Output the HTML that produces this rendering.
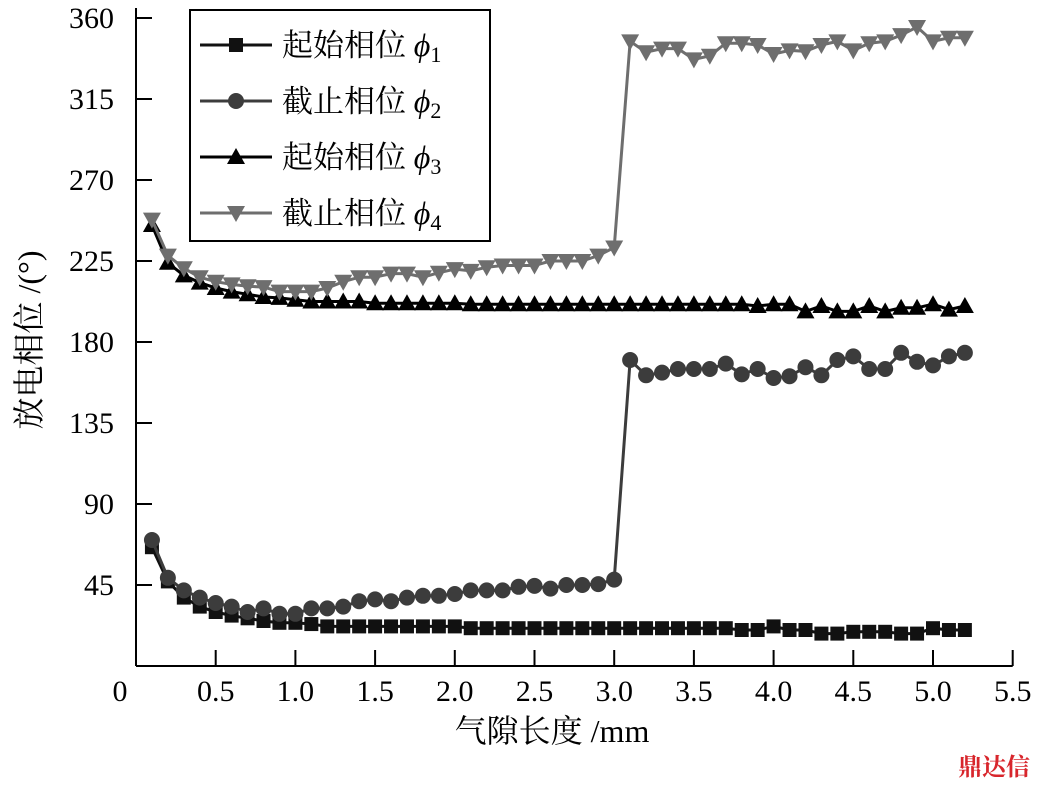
<!DOCTYPE html>
<html><head><meta charset="utf-8"><style>
html,body{margin:0;padding:0;background:#fff;}
svg text{font-family:"Liberation Serif","Noto Serif CJK SC","Noto Sans CJK SC",serif;}
</style></head><body>
<svg id="chart" width="1039" height="784" viewBox="0 0 1039 784" xmlns="http://www.w3.org/2000/svg">
<g id="axes"></g>
<g id="series"></g>
<g id="legend"></g>
<text transform="translate(40,340) rotate(-90)" text-anchor="middle" font-size="32">放电相位 /(°)</text>
<text x="552" y="742" text-anchor="middle" font-size="32">气隙长度 /mm</text>
<text x="1030" y="775" text-anchor="end" font-size="24" fill="#d8262c" font-weight="bold">鼎达信</text>
</svg>
<script>
const xTicks = [0,0.5,1.0,1.5,2.0,2.5,3.0,3.5,4.0,4.5,5.0,5.5];
const xTickLabels = ["0","0.5","1.0","1.5","2.0","2.5","3.0","3.5","4.0","4.5","5.0","5.5"];
const yTicks = [45,90,135,180,225,270,315,360];
const gapX = [0.1,0.2,0.3,0.4,0.5,0.6,0.7,0.8,0.9,1.0,1.1,1.2,1.3,1.4,1.5,1.6,1.7,1.8,1.9,2.0,2.1,2.2,2.3,2.4,2.5,2.6,2.7,2.8,2.9,3.0,3.1,3.2,3.3,3.4,3.5,3.6,3.7,3.8,3.9,4.0,4.1,4.2,4.3,4.4,4.5,4.6,4.7,4.8,4.9,5.0,5.1,5.2];
const phi1 = [66,47,38,33,30,28,26.5,25,24,24,23.3,22,22,22,22,22,22,22,22,22,21,21,21,21,21,21,21,21,21,21,21,21,21,21,21,21,21,20,20,22,20,20,18,18,19,19,19,18,18,21,20,20];
const phi2 = [70,49,42,38,35,33,30,32,29,29,32,32,33,36,37,36,38,39,39,40,42,42,42,44,44.5,43,45,45,45.5,48,170,161.5,163,165,165,165,168,162,165,160,161,166,161.5,170,172,165,165,174,169,167,172,174];
const phi3 = [245,224,217,213,210,208,206.5,205,204.5,203.5,202.5,202.5,202.5,202.5,201.5,201.5,201.5,201.5,201.5,201.5,201,201,201,201,201,201,201,201,201,201,201,201,201,201,201,201,201,201,200,201,201,197,200,197,197,200,197,199,199,201,198,200];
const phi4 = [248,228,221,216,213.5,212,211,210.5,208,208,208,210,213.5,216,216,218,218,216,218.5,220.5,219.5,221.5,222.5,222.5,222.5,225,225,225,228,232.5,347,341,343,343,337,339,346,346,345,340,342,341.5,345,347,342,346,347,350.5,355,347,349,349];
const seriesNames = ["起始相位 ","截止相位 ","起始相位 ","截止相位 "];

const X0=136, XS=159.4, Y0=666, YS=1.8;
const sx=v=>X0+v*XS, sy=v=>Y0-v*YS;
const NS="http://www.w3.org/2000/svg";
function mk(tag,attrs,parent){const e=document.createElementNS(NS,tag);for(const k in attrs)e.setAttribute(k,attrs[k]);parent.appendChild(e);return e;}
const axes=document.getElementById('axes');
let l=mk('line',{x1:X0,y1:8,x2:X0,y2:Y0,stroke:'#000','stroke-width':2},axes);


l=mk('line',{x1:X0,y1:Y0,x2:sx(5.5),y2:Y0,stroke:'#000','stroke-width':2},axes);


xTicks.forEach((t,i)=>{
  if(t>0){const tk=mk('line',{x1:sx(t),y1:Y0,x2:sx(t),y2:Y0-16,stroke:'#000','stroke-width':2},axes);
  
  }
  const tx=mk('text',{x:t===0?120:sx(t),y:701,'text-anchor':'middle','font-size':30},axes);
  
  
  tx.textContent=xTickLabels[i];
});
yTicks.forEach(t=>{
  const tk=mk('line',{x1:X0,y1:sy(t),x2:X0+16,y2:sy(t),stroke:'#000','stroke-width':2},axes);
  
  
  const tx=mk('text',{x:114,y:sy(t)+10,'text-anchor':'end','font-size':30},axes);
  
  
  tx.textContent=String(t);
});
const styles=[{c:'#111',m:'sq'},{c:'#3c3c3c',m:'ci'},{c:'#000',m:'tu'},{c:'#6e6e6e',m:'td'}];
function marker(g,m,x,y,c){
  let e;
  if(m==='sq')e=mk('rect',{x:x-7,y:y-7,width:14,height:14,fill:c},g);
  else if(m==='ci')e=mk('circle',{cx:x,cy:y,r:8,fill:c},g);
  else if(m==='tu')e=mk('polygon',{points:`${x-9},${y+7} ${x+9},${y+7} ${x},${y-9}`,fill:c},g);
  else e=mk('polygon',{points:`${x-9},${y-7} ${x+9},${y-7} ${x},${y+9}`,fill:c},g);
  return e;
}
const ser=document.getElementById('series');
[phi1,phi2,phi3,phi4].forEach((arr,si)=>{
  const st=styles[si];
  const g=mk('g',{},ser);
  
  
  const pl=mk('polyline',{points:arr.map((v,i)=>sx(gapX[i])+','+sy(v)).join(' '),fill:'none',stroke:st.c,'stroke-width':3},g);
  
  
  arr.forEach((v,i)=>{const mm=marker(g,st.m,sx(gapX[i]),sy(v),st.c);
    
    });
});
const lg=document.getElementById('legend');
const box=mk('rect',{x:190,y:10,width:300,height:231,fill:'#fff',stroke:'#000','stroke-width':2},lg);


const ly=[45,101,157,213];
seriesNames.forEach((n,i)=>{
  const g=mk('g',{},lg);
  
  
  mk('line',{x1:200,y1:ly[i],x2:272,y2:ly[i],stroke:styles[i].c,'stroke-width':3},g);
  marker(g,styles[i].m,236,ly[i],styles[i].c);
  const t=mk('text',{x:282,y:ly[i]+11,'font-size':31},g);
  t.textContent=n;
  const p=mk('tspan',{'font-style':'italic','font-size':32},t);
  p.textContent='ϕ';
  const s=mk('tspan',{'font-size':22,dy:6},t);
  s.textContent=String(i+1);
});
</script>
</body></html>
